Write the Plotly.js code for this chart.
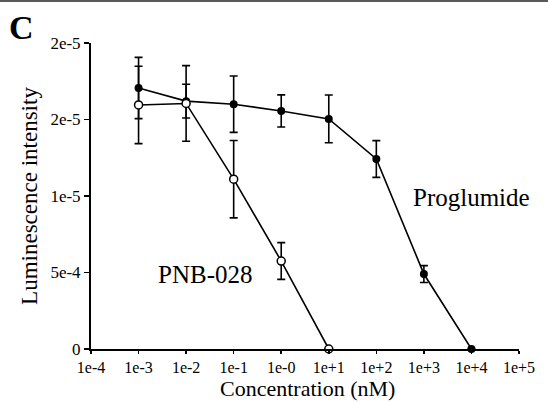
<!DOCTYPE html>
<html>
<head>
<meta charset="utf-8">
<script src="https://cdn.plot.ly/plotly-3.0.1.min.js"></script>
<style>html,body{margin:0;padding:0;background:#fff;}#chart{width:548px;height:402px;}</style>
</head>
<body>
<div id="chart"></div>
<script>
// Concentrations (nM)
var proglumideConc = [1e-3, 1e-2, 1e-1, 1e0, 1e1, 1e2, 1e3, 1e4];
var proglumideVals = [17.06e-6, 16.2e-6, 16.0e-6, 15.56e-6, 15.04e-6, 12.42e-6, 4.9e-6, 0];
var proglumideErr  = [2.0e-6, 1.1e-6, 1.84e-6, 1.05e-6, 1.56e-6, 1.2e-6, 0.55e-6, 0];

var pnbConc = [1e-3, 1e-2, 1e-1, 1e0, 1e1];
var pnbVals = [15.95e-6, 16.05e-6, 11.1e-6, 5.75e-6, 0];
var pnbErr  = [2.53e-6, 2.47e-6, 2.53e-6, 1.2e-6, 0];

var xTickVals = [1e-4, 1e-3, 1e-2, 1e-1, 1e0, 1e1, 1e2, 1e3, 1e4, 1e5];
var xTickText = ['1e-4', '1e-3', '1e-2', '1e-1', '1e-0', '1e+1', '1e+2', '1e+3', '1e+4', '1e+5'];
var yTickVals = [0, 5e-6, 1e-5, 1.5e-5, 2e-5];
var yTickText = ['0', '5e-4', '1e-5', '2e-5', '2e-5'];

var serif = '"Liberation Serif", "Times New Roman", serif';

var traces = [
  {
    x: proglumideConc, y: proglumideVals, type: 'scatter', mode: 'lines+markers',
    name: 'Proglumide',
    line: {color: '#000', width: 1.6},
    marker: {color: '#000', size: 8, symbol: 'circle'},
    error_y: {type: 'data', array: proglumideErr, visible: true, color: '#000', thickness: 1.6, width: 4},
    cliponaxis: false
  },
  {
    x: pnbConc, y: pnbVals, type: 'scatter', mode: 'lines+markers',
    name: 'PNB-028',
    line: {color: '#000', width: 1.6},
    marker: {color: '#fff', size: 8, symbol: 'circle', line: {color: '#000', width: 1.5}},
    error_y: {type: 'data', array: pnbErr, visible: true, color: '#000', thickness: 1.6, width: 4},
    cliponaxis: false
  }
];

var plotW = 548 - 91 - 29, plotH = 402 - 43 - 53;

var layout = {
  width: 548, height: 402,
  margin: {l: 91, r: 29, t: 43, b: 53},
  paper_bgcolor: '#fff', plot_bgcolor: '#fff',
  showlegend: false,
  font: {family: serif, color: '#000', size: 16},
  xaxis: {
    type: 'log', range: [-4, 5],
    tickvals: xTickVals, ticktext: xTickText,
    ticks: 'outside', ticklen: 3, tickwidth: 1.5, tickcolor: '#000',
    showline: true, linecolor: '#000', linewidth: 2,
    showgrid: false, zeroline: false,
    tickfont: {family: serif, size: 16, color: '#000'}
  },
  yaxis: {
    range: [0, 2e-5],
    tickvals: yTickVals, ticktext: yTickText,
    ticks: 'outside', ticklen: 5, tickwidth: 1.5, tickcolor: '#000',
    showline: true, linecolor: '#000', linewidth: 2,
    showgrid: false, zeroline: false,
    tickfont: {family: serif, size: 17, color: '#000'},
    title: {text: 'Luminescence intensity', font: {family: serif, size: 23, color: '#000'}, standoff: 6}
  },
  annotations: [
    {text: 'Proglumide', x: 4.01, y: 9.93e-6, xref: 'x', yref: 'y', showarrow: false,
     xanchor: 'center', yanchor: 'middle',
     font: {family: serif, size: 25, color: '#000'}},
    {text: 'PNB-028', x: -1.6, y: 4.84e-6, xref: 'x', yref: 'y', showarrow: false,
     xanchor: 'center', yanchor: 'middle',
     font: {family: serif, size: 25, color: '#000'}},
    {text: '<b>C</b>', x: (21 - 91) / plotW, y: (349 - 28) / plotH, xref: 'paper', yref: 'paper', showarrow: false,
     xanchor: 'center', yanchor: 'middle',
     font: {family: serif, size: 34, color: '#000'}},
    {text: 'Concentration (nM)', x: (307 - 91) / plotW, y: (349 - 388) / plotH, xref: 'paper', yref: 'paper',
     showarrow: false, xanchor: 'center', yanchor: 'middle',
     font: {family: serif, size: 22, color: '#000'}}
  ],
  shapes: [
    {type: 'line', xref: 'paper', yref: 'paper', x0: -0.22, x1: 1.07, y0: 1.137, y1: 1.137,
     line: {color: '#222', width: 1.5}}
  ]
};

Plotly.newPlot('chart', traces, layout, {staticPlot: true, displayModeBar: false});
</script>
</body>
</html>
